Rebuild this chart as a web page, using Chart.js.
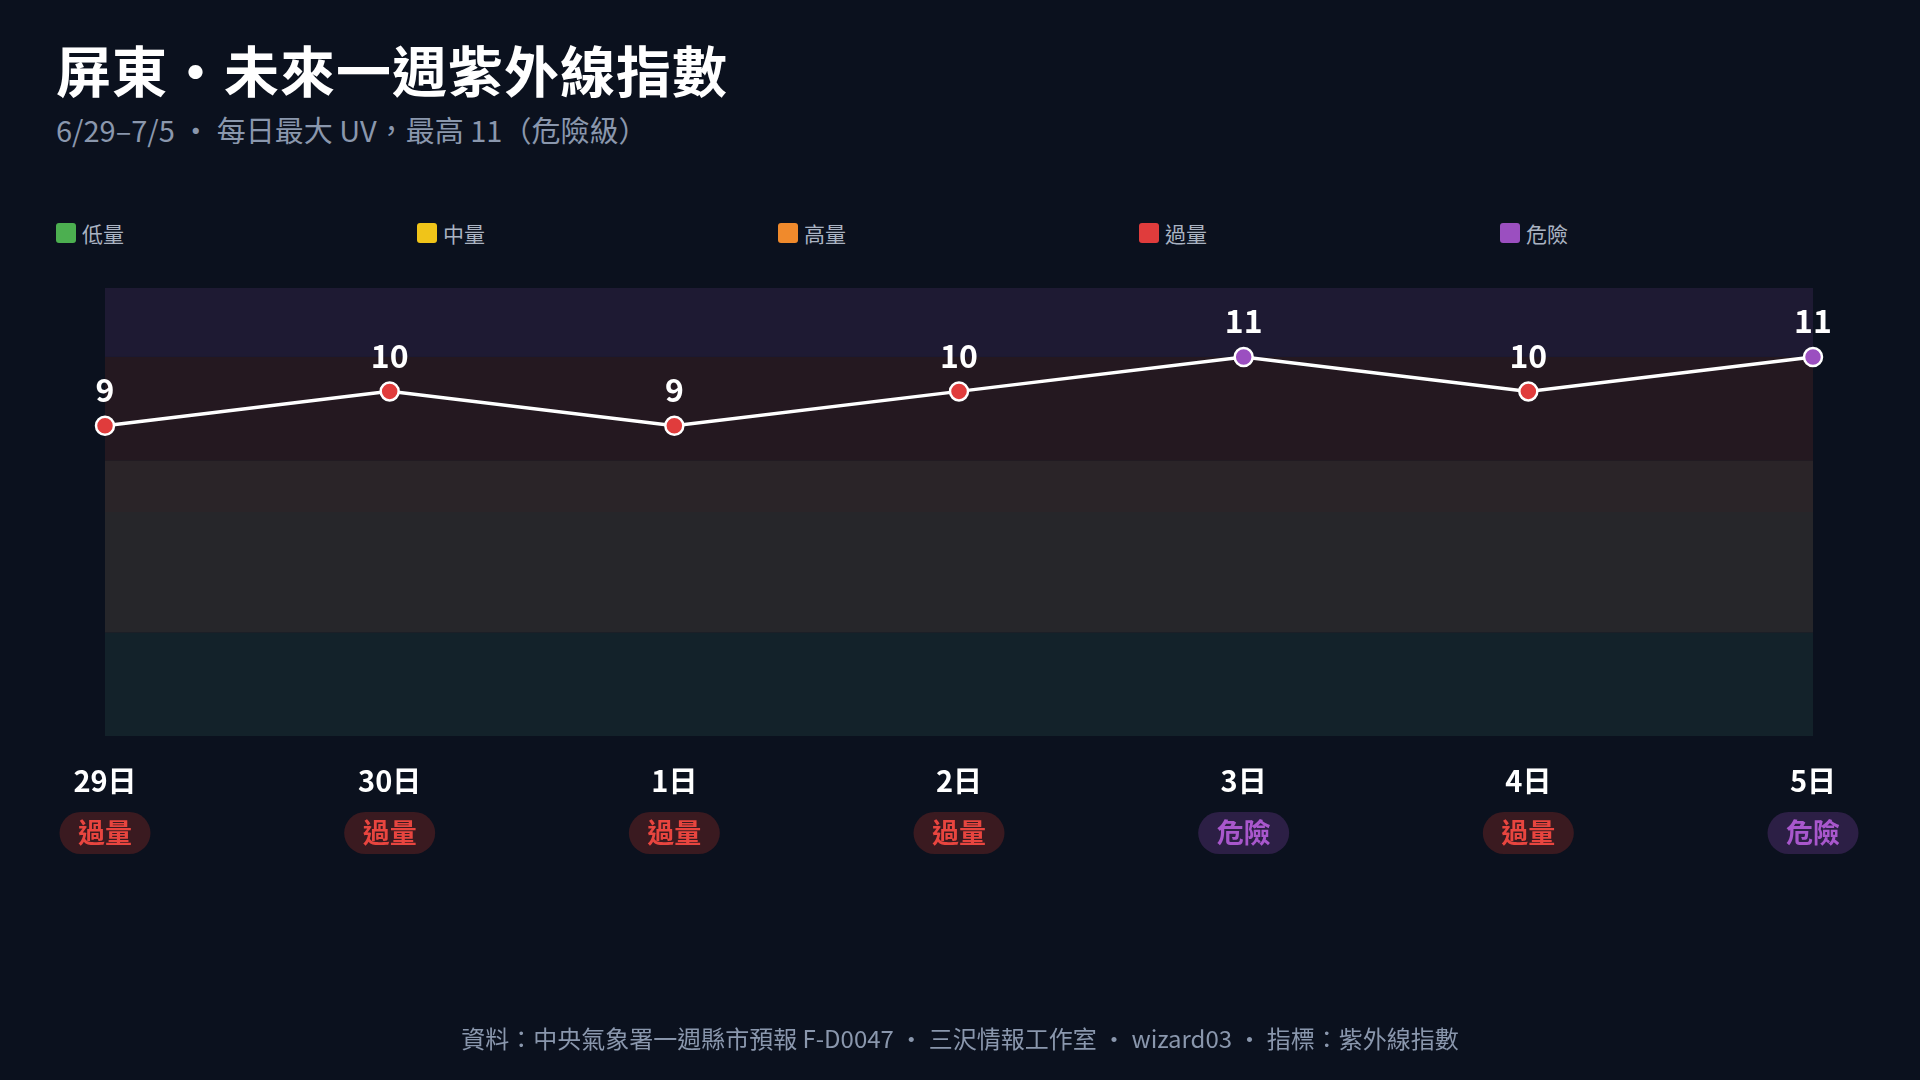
<!DOCTYPE html>
<html><head><meta charset="utf-8">
<script src="https://cdn.jsdelivr.net/npm/chart.js@4"></script>
<style>
html,body{margin:0;padding:0;background:#0b111e;width:1920px;height:1080px;overflow:hidden;font-family:"Noto Sans CJK TC","Noto Sans",sans-serif;}
#title{position:absolute;left:56px;top:28px;color:#fff;font-size:55px;font-weight:700;letter-spacing:1px}
#sub{position:absolute;left:56px;top:108px;color:#8a97ad;font-size:29px}
#legend{position:absolute;left:56px;top:218px;display:flex}
.li{width:361px;display:flex;align-items:center;color:#aab3c2;font-size:21px}
.sw{width:20px;height:20px;border-radius:3px;margin-right:6px}
#foot{position:absolute;left:0;width:1920px;top:1020px;text-align:center;color:#8a97ad;font-size:24px}
#wrap{position:absolute;left:0;top:0;width:1920px;height:1080px}
canvas{display:block}
</style></head><body>
<div id="title">屏東・未來一週紫外線指數</div>
<div id="sub">6/29–7/5 ・ 每日最大 UV，最高 11（危險級）</div>
<div id="legend"></div>
<div id="wrap"><canvas id="c" width="1920" height="1080" style="width:1920px;height:1080px"></canvas></div>
<div id="foot">資料：中央氣象署一週縣市預報 F-D0047 ・ 三沢情報工作室 ・ wizard03 ・ 指標：紫外線指數</div>
<script>
const days=["29日","30日","1日","2日","3日","4日","5日"];
const uv=[9,10,9,10,11,10,11];
const levels=["過量","過量","過量","過量","危險","過量","危險"];
const legendNames=["低量","中量","高量","過量","危險"];
const legendColors=["#4caf50","#f0c419","#f08a2c","#e03c3c","#9b4fc0"];
const bandLimits=[0,3,6.5,8,11,13];
const bandColors=["#13222a","#26262a","#2a2428","#241820","#1e1a33"];
const levelStyle={"過量":{fg:"#e8453f",bg:"#3a1a20",pt:"#e03c3c"},"危險":{fg:"#a857cc",bg:"#2c1f45",pt:"#9b4fc0"}};

const lg=document.getElementById('legend');
legendNames.forEach((n,i)=>{lg.insertAdjacentHTML('beforeend',`<div class="li"><div class="sw" style="background:${legendColors[i]}"></div>${n}</div>`)});

const deco={id:'deco',
beforeDatasetsDraw(ch){const {ctx,chartArea:a,scales:{y}}=ch;
 for(let i=0;i<bandColors.length;i++){const t=y.getPixelForValue(bandLimits[i+1]),b=y.getPixelForValue(bandLimits[i]);
  ctx.fillStyle=bandColors[i];ctx.fillRect(a.left,t,a.right-a.left,b-t);}
},
afterDatasetsDraw(ch){const {ctx,scales:{x,y}}=ch;
 ctx.save();ctx.textAlign='center';ctx.textBaseline='middle';
 uv.forEach((v,i)=>{const px=x.getPixelForValue(i),py=y.getPixelForValue(v);
  ctx.fillStyle='#fff';ctx.font='bold 32px "Noto Sans CJK TC"';ctx.fillText(String(v),px,py-36);
  ctx.font='bold 29px "Noto Sans CJK TC"';ctx.fillText(days[i],px,781);
  const s=levelStyle[levels[i]];ctx.fillStyle=s.bg;const w=91,h=42,r=21;
  ctx.beginPath();ctx.roundRect(px-w/2,833-h/2,w,h,r);ctx.fill();
  ctx.fillStyle=s.fg;ctx.font='bold 27px "Noto Sans CJK TC"';ctx.fillText(levels[i],px,833);
 });ctx.restore();}
};

new Chart(document.getElementById('c'),{type:'line',
data:{labels:days,datasets:[{data:uv,borderColor:'#fff',borderWidth:3.5,tension:0,
 pointRadius:9,pointHoverRadius:9,pointBorderColor:'#fff',pointBorderWidth:2.5,
 pointBackgroundColor:levels.map(l=>levelStyle[l].pt)}]},
options:{responsive:false,animation:false,devicePixelRatio:1,
 layout:{padding:{left:105,right:107,top:288,bottom:344}},
 plugins:{legend:{display:false},tooltip:{enabled:false}},
 scales:{x:{display:false,offset:false},y:{display:false,min:0,max:13}}},
plugins:[deco]});
</script>
</body></html>
